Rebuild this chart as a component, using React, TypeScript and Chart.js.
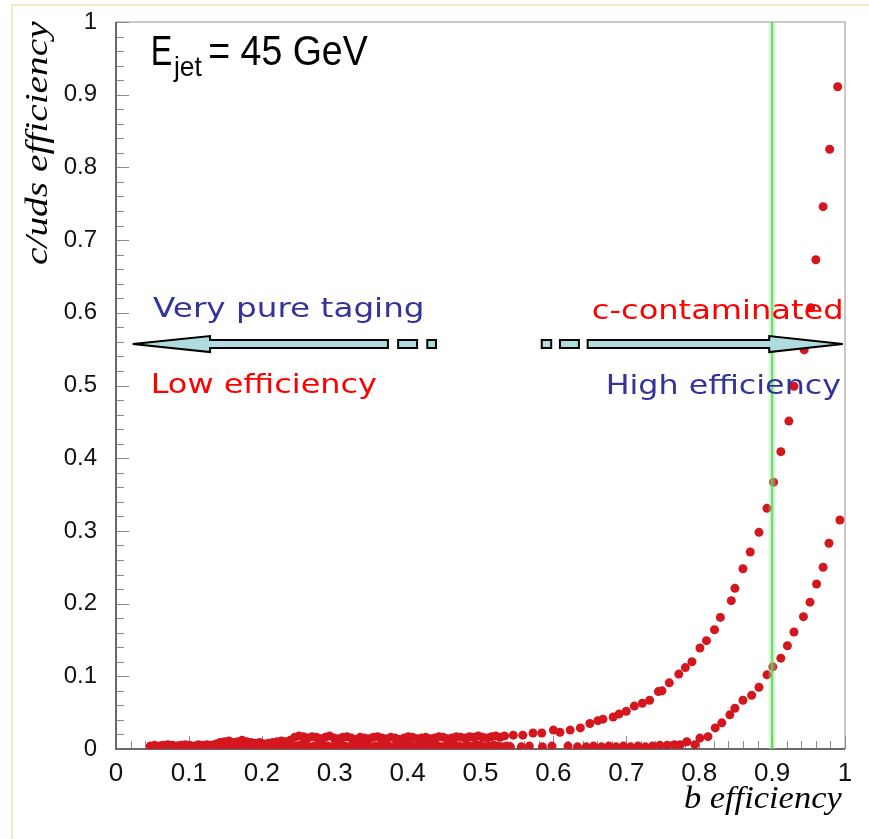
import { useEffect, useRef } from "react";
import { Chart, registerables } from "chart.js";

Chart.register(...registerables);

// ---------- data ----------
const bEffC = [
  0.047, 0.053, 0.059, 0.065, 0.071, 0.077, 0.083, 0.089, 0.095, 0.101,
  0.107, 0.113, 0.119, 0.125, 0.131, 0.137, 0.143, 0.149, 0.155, 0.161,
  0.167, 0.173, 0.179, 0.185, 0.191, 0.197, 0.203, 0.209, 0.215, 0.221,
  0.227, 0.233, 0.239, 0.245, 0.251, 0.257, 0.263, 0.269, 0.275, 0.281,
  0.287, 0.293, 0.299, 0.305, 0.311, 0.317, 0.323, 0.329, 0.335, 0.341,
  0.347, 0.353, 0.359, 0.365, 0.371, 0.377, 0.383, 0.389, 0.395, 0.401,
  0.407, 0.413, 0.419, 0.425, 0.431, 0.437, 0.443, 0.449, 0.455, 0.461,
  0.467, 0.473, 0.479, 0.485, 0.491, 0.497, 0.503, 0.509, 0.515, 0.521,
  0.527, 0.533,
  0.545, 0.558, 0.572, 0.584, 0.6, 0.609, 0.623, 0.637, 0.65,
  0.661, 0.668, 0.682, 0.69, 0.7, 0.711, 0.722, 0.732, 0.744, 0.749, 0.759, 0.772, 0.781, 0.79, 0.801, 0.81,
  0.821, 0.829, 0.844, 0.849, 0.86, 0.87, 0.882, 0.893, 0.902, 0.912, 0.923, 0.93, 0.944, 0.953, 0.96, 0.97,
  0.979, 0.99,
];
const cEff = [
  0.004, 0.005, 0.004, 0.005, 0.006, 0.005, 0.004, 0.005, 0.006, 0.005,
  0.004, 0.006, 0.005, 0.006, 0.005, 0.007, 0.009, 0.01, 0.011, 0.009,
  0.01, 0.012, 0.01, 0.009, 0.008, 0.009, 0.007, 0.008, 0.009, 0.01,
  0.011, 0.01, 0.012, 0.016, 0.018, 0.017, 0.015, 0.017, 0.016, 0.014,
  0.016, 0.018, 0.015, 0.014, 0.016, 0.017, 0.015, 0.013, 0.016, 0.015,
  0.014, 0.016, 0.017, 0.015, 0.014, 0.016, 0.015, 0.013, 0.015, 0.017,
  0.016, 0.014, 0.015, 0.016, 0.014, 0.015, 0.017, 0.016, 0.014, 0.015,
  0.017, 0.016, 0.015, 0.017, 0.016, 0.018, 0.016, 0.015, 0.017, 0.018,
  0.016, 0.018,
  0.019, 0.019, 0.022, 0.022, 0.026, 0.023, 0.026, 0.029, 0.035,
  0.039, 0.041, 0.044, 0.048, 0.052, 0.059, 0.063, 0.067, 0.079, 0.08, 0.091, 0.103, 0.112, 0.12, 0.139, 0.149,
  0.164, 0.181, 0.204, 0.221, 0.248, 0.271, 0.298, 0.331, 0.367, 0.409, 0.451, 0.499, 0.549, 0.607, 0.673, 0.746,
  0.825, 0.911,
];
const bEffUds = [
  0.05, 0.056, 0.062, 0.068, 0.074, 0.08, 0.086, 0.092, 0.098, 0.104,
  0.11, 0.116, 0.122, 0.128, 0.134, 0.14, 0.146, 0.152, 0.158, 0.164,
  0.17, 0.176, 0.182, 0.188, 0.194, 0.2, 0.206, 0.212, 0.218, 0.224,
  0.23, 0.236, 0.242, 0.248, 0.254, 0.26, 0.266, 0.272, 0.278, 0.284,
  0.29, 0.296, 0.302, 0.308, 0.314, 0.32, 0.326, 0.332, 0.338, 0.344,
  0.35, 0.356, 0.362, 0.368, 0.374, 0.38, 0.386, 0.392, 0.398, 0.404,
  0.41, 0.416, 0.422, 0.428, 0.434, 0.44, 0.446, 0.452, 0.458, 0.464,
  0.47, 0.476, 0.482, 0.488, 0.494, 0.5, 0.506, 0.512, 0.518, 0.524,
  0.53, 0.536,
  0.541, 0.556, 0.567, 0.585, 0.598, 0.62, 0.633, 0.645, 0.655, 0.666,
  0.676, 0.686, 0.696, 0.706, 0.716, 0.726, 0.736, 0.746, 0.756, 0.766, 0.774, 0.783, 0.794, 0.801, 0.812, 0.822,
  0.831, 0.842, 0.849, 0.86, 0.872, 0.882, 0.893, 0.901, 0.912, 0.921, 0.93, 0.943, 0.952, 0.961, 0.97, 0.978,
  0.993,
];
const udsEff = [
  0.002, 0.003, 0.002, 0.003, 0.002, 0.003, 0.004, 0.002, 0.003, 0.002,
  0.003, 0.004, 0.002, 0.003, 0.002, 0.003, 0.004, 0.003, 0.002, 0.003,
  0.004, 0.003, 0.002, 0.004, 0.003, 0.002, 0.003, 0.004, 0.003, 0.002,
  0.004, 0.005, 0.003, 0.004, 0.006, 0.005, 0.003, 0.004, 0.006, 0.005,
  0.004, 0.003, 0.005, 0.006, 0.004, 0.003, 0.005, 0.004, 0.006, 0.005,
  0.003, 0.004, 0.005, 0.006, 0.004, 0.003, 0.005, 0.004, 0.006, 0.005,
  0.003, 0.004, 0.005, 0.004, 0.006, 0.005, 0.003, 0.004, 0.005, 0.006,
  0.004, 0.003, 0.005, 0.004, 0.006, 0.005, 0.003, 0.004, 0.005, 0.004,
  0.003, 0.004,
  0.003, 0.003, 0.004, 0.003, 0.004, 0.004, 0.003, 0.003, 0.004, 0.003,
  0.004, 0.003, 0.004, 0.003, 0.004, 0.003, 0.004, 0.005, 0.005, 0.006, 0.006, 0.01, 0.006, 0.015, 0.017, 0.029,
  0.036, 0.047, 0.056, 0.067, 0.074, 0.085, 0.102, 0.113, 0.125, 0.142, 0.161, 0.182, 0.202, 0.227, 0.25, 0.283,
  0.315,
];
const xTickLabels = ["0", "0.1", "0.2", "0.3", "0.4", "0.5", "0.6", "0.7", "0.8", "0.9", "1"];
const yTickLabels = ["0", "0.1", "0.2", "0.3", "0.4", "0.5", "0.6", "0.7", "0.8", "0.9", "1"];
const cutValue = 0.9;
const xTitle = "b efficiency";
const yTitle = "c/uds efficiency";
const energyText = "= 45 GeV";

// ---------- drawing helpers ----------
function inkText(
  ctx: CanvasRenderingContext2D,
  text: string,
  x: number,
  y: number,
  size: number,
  family: string,
  color: string,
  targetW: number,
  align: "left" | "right" = "left",
  rotate = false,
  style = ""
) {
  ctx.save();
  ctx.font = `${style} ${size}px ${family}`;
  const m = ctx.measureText(text);
  const l = m.actualBoundingBoxLeft;
  const r = m.actualBoundingBoxRight;
  const ink = l + r;
  const sx = targetW > 0 ? targetW / ink : 1;
  ctx.translate(x, y);
  if (rotate) ctx.rotate(-Math.PI / 2);
  ctx.scale(sx, 1);
  ctx.fillStyle = color;
  ctx.textAlign = "left";
  ctx.textBaseline = "alphabetic";
  ctx.fillText(text, align === "left" ? l : -r, 0);
  ctx.restore();
}

function drawRectPiece(ctx: CanvasRenderingContext2D, x0: number, x1: number, yc: number, h: number) {
  ctx.beginPath();
  ctx.rect(x0, yc - h, x1 - x0, 2 * h);
  ctx.fill();
  ctx.stroke();
}

const decorPlugin = {
  id: "decor",
  beforeDraw(chart: any) {
    const ctx: CanvasRenderingContext2D = chart.ctx;
    ctx.save();
    ctx.fillStyle = "#ffffff";
    ctx.fillRect(0, 0, chart.width, chart.height);
    ctx.strokeStyle = "#f4e6c6";
    ctx.lineWidth = 2;
    ctx.beginPath();
    ctx.moveTo(12, chart.height);
    ctx.lineTo(12, 5);
    ctx.lineTo(chart.width, 5);
    ctx.stroke();
    ctx.restore();
  },
  beforeDatasetsDraw(chart: any) {
    const ctx: CanvasRenderingContext2D = chart.ctx;
    const { left, right, top, bottom } = chart.chartArea;
    const xs = chart.scales.x;
    const ys = chart.scales.y;
    ctx.save();
    ctx.strokeStyle = "#b8b8b8";
    ctx.lineWidth = 1.5;
    ctx.beginPath();
    ctx.moveTo(left, top);
    ctx.lineTo(right, top);
    ctx.lineTo(right, bottom);
    ctx.stroke();
    ctx.strokeStyle = "#8a8a8a";
    ctx.lineWidth = 1;
    for (let i = 0; i <= 50; i++) {
      const v = i / 50;
      const len = i % 5 === 0 ? 13 : 8;
      const px = Math.round(xs.getPixelForValue(v)) + 0.5;
      const py = Math.round(ys.getPixelForValue(v)) + 0.5;
      ctx.beginPath();
      ctx.moveTo(px, bottom);
      ctx.lineTo(px, bottom - len);
      ctx.moveTo(left, py);
      ctx.lineTo(left + len, py);
      ctx.stroke();
    }
    ctx.strokeStyle = "#6a6a6a";
    ctx.lineWidth = 2;
    ctx.beginPath();
    ctx.moveTo(left, top);
    ctx.lineTo(left, bottom);
    ctx.lineTo(right, bottom);
    ctx.stroke();
    ctx.restore();
  },
  afterDatasetsDraw(chart: any) {
    const ctx: CanvasRenderingContext2D = chart.ctx;
    const { top, bottom } = chart.chartArea;
    const xs = chart.scales.x;
    const ys = chart.scales.y;
    ctx.save();
    const gx = xs.getPixelForValue(cutValue);
    ctx.strokeStyle = "rgba(160,230,160,0.35)";
    ctx.lineWidth = 7;
    ctx.beginPath();
    ctx.moveTo(gx, top);
    ctx.lineTo(gx, bottom);
    ctx.stroke();
    ctx.strokeStyle = "rgba(90,215,90,0.8)";
    ctx.lineWidth = 2.5;
    ctx.beginPath();
    ctx.moveTo(gx, top);
    ctx.lineTo(gx, bottom);
    ctx.stroke();

    const yc = ys.getPixelForValue(0.557);
    const P = (v: number) => xs.getPixelForValue(v);
    ctx.fillStyle = "#b0dcdf";
    ctx.strokeStyle = "#000000";
    ctx.lineWidth = 2;
    ctx.lineJoin = "miter";
    ctx.miterLimit = 2;
    ctx.beginPath();
    ctx.moveTo(P(0.023), yc);
    ctx.lineTo(P(0.129), yc - 8);
    ctx.lineTo(P(0.129), yc - 4);
    ctx.lineTo(P(0.373), yc - 4);
    ctx.lineTo(P(0.373), yc + 4);
    ctx.lineTo(P(0.129), yc + 4);
    ctx.lineTo(P(0.129), yc + 8);
    ctx.closePath();
    ctx.fill();
    ctx.stroke();
    drawRectPiece(ctx, P(0.387), P(0.413), yc, 4);
    drawRectPiece(ctx, P(0.427), P(0.439), yc, 4);
    drawRectPiece(ctx, P(0.584), P(0.597), yc, 4);
    drawRectPiece(ctx, P(0.609), P(0.635), yc, 4);
    ctx.beginPath();
    ctx.moveTo(P(0.997), yc);
    ctx.lineTo(P(0.896), yc - 8);
    ctx.lineTo(P(0.896), yc - 4);
    ctx.lineTo(P(0.647), yc - 4);
    ctx.lineTo(P(0.647), yc + 4);
    ctx.lineTo(P(0.896), yc + 4);
    ctx.lineTo(P(0.896), yc + 8);
    ctx.closePath();
    ctx.fill();
    ctx.stroke();
    ctx.restore();

    const sans = '"DejaVu Sans", Verdana, sans-serif';
    inkText(ctx, "Very pure taging", 153, 317, 27, sans, "#333399", 269);
    inkText(ctx, "Low efficiency", 153, 393, 27, sans, "#ff0000", 224);
    inkText(ctx, "c-contaminated", 841, 319, 27, sans, "#ff0000", 248, "right");
    inkText(ctx, "High efficiency", 841, 394, 27, sans, "#333399", 233, "right");

    const arial = '"Liberation Sans", Arial, sans-serif';
    inkText(ctx, "E", 153, 65, 43, arial, "#000000", 18);
    inkText(ctx, "jet", 173, 76, 28, arial, "#000000", 29);
    inkText(ctx, energyText, 210, 65, 43, arial, "#000000", 158);

    const serif = '"Liberation Serif", "Times New Roman", serif';
    inkText(ctx, xTitle, 685, 808, 31, serif, "#000000", 157, "left", false, "italic");
    inkText(ctx, yTitle, 47, 265, 31, serif, "#000000", 244, "left", true, "italic");
  },
};

export default function App() {
  const ref = useRef<HTMLCanvasElement | null>(null);
  useEffect(() => {
    if (!ref.current) return;
    const pointColor = "#d4161f";
    const chart = new Chart(ref.current, {
      type: "scatter",
      data: {
        datasets: [
          {
            label: "c",
            data: bEffC.map((x, i) => ({ x, y: cEff[i] })),
            backgroundColor: pointColor,
            borderWidth: 0,
            pointRadius: 4.5,
            pointHoverRadius: 4.5,
          },
          {
            label: "uds",
            data: bEffUds.map((x, i) => ({ x, y: udsEff[i] })),
            backgroundColor: pointColor,
            borderWidth: 0,
            pointRadius: 4.5,
            pointHoverRadius: 4.5,
          },
        ],
      },
      options: {
        animation: false,
        responsive: true,
        maintainAspectRatio: false,
        events: [],
        layout: { padding: { top: 22, right: 24, bottom: 0, left: 0 } },
        plugins: { legend: { display: false }, tooltip: { enabled: false } },
        scales: {
          x: {
            type: "linear",
            min: 0,
            max: 1,
            border: { display: false },
            grid: { display: false, drawTicks: false },
            ticks: {
              stepSize: 0.1,
              autoSkip: false,
              maxRotation: 0,
              padding: 9,
              color: "#111111",
              font: { family: '"Liberation Sans", Arial, sans-serif', size: 26 },
              callback: (_v: any, i: number) => xTickLabels[i],
            },
            afterFit: (s: any) => {
              s.height = 90;
              s.paddingLeft = 0;
              s.paddingRight = 0;
            },
          },
          y: {
            type: "linear",
            min: 0,
            max: 1,
            border: { display: false },
            grid: { display: false, drawTicks: false },
            ticks: {
              stepSize: 0.1,
              autoSkip: false,
              padding: 19,
              color: "#111111",
              font: { family: '"Liberation Sans", Arial, sans-serif', size: 24 },
              callback: (_v: any, i: number) => yTickLabels[i],
            },
            afterFit: (s: any) => {
              s.width = 116;
              s.paddingTop = 0;
              s.paddingBottom = 0;
            },
          },
        },
      },
      plugins: [decorPlugin],
    });
    return () => chart.destroy();
  }, []);
  return (
    <div style={{ position: "fixed", left: 0, top: 0, width: 869, height: 839, background: "#fff" }}>
      <canvas ref={ref} />
    </div>
  );
}
